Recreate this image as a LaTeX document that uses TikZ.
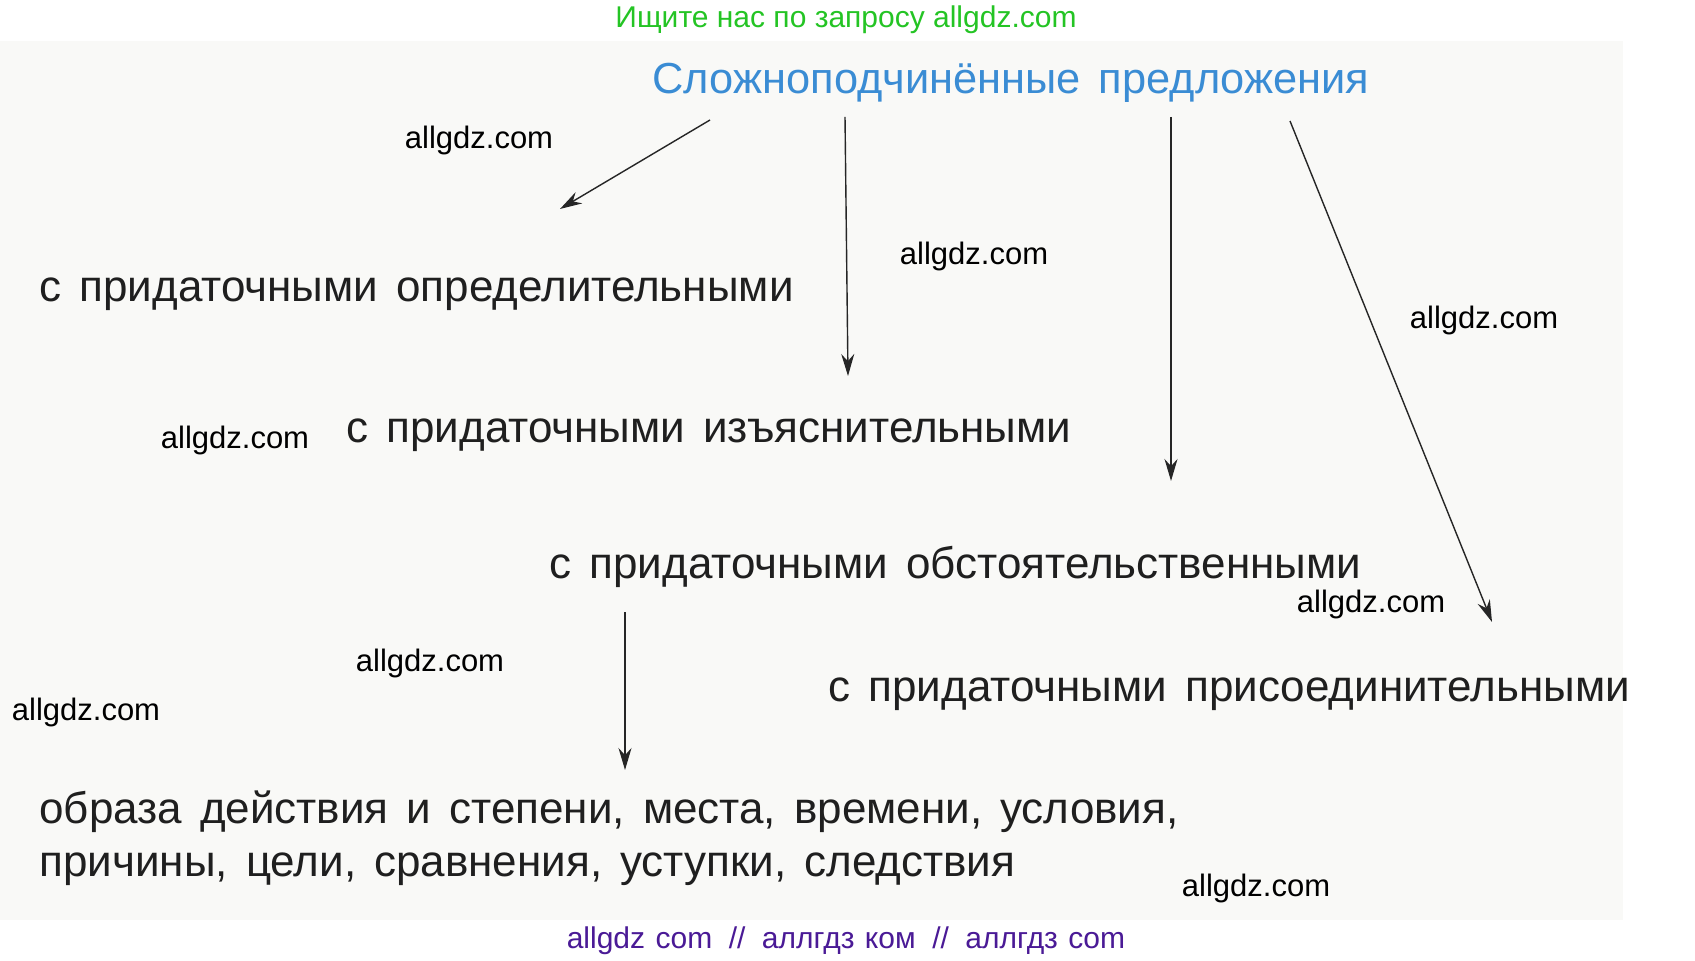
\documentclass[tikz,border=0pt]{standalone}
\usepackage{fontspec}
\setmainfont{Liberation Sans}
\usetikzlibrary{arrows.meta}
\definecolor{pagebg}{RGB}{249,249,247}
\definecolor{titleblue}{RGB}{58,140,212}
\definecolor{topgreen}{RGB}{36,196,36}
\definecolor{botpurple}{RGB}{74,26,150}
\newcommand\slashgap{\hspace{0.55em}}
\tikzset{
  item/.style={anchor=west, inner sep=0pt, font={\fontsize{22}{26.5}\selectfont\spaceskip=0.41em\relax}, text=black!88},
  wm/.style={inner sep=0pt, font=\fontsize{15.5}{18}\selectfont, text=black},
  arr/.style={draw=black!85, line width=0.7pt, -{Stealth[length=11pt,width=6.5pt]}},
}
\begin{document}
\begin{tikzpicture}[x=0.5pt,y=-0.5pt]
\useasboundingbox (0,0) rectangle (1695,961);
\fill[white] (0,0) rectangle (1695,961);
\fill[pagebg] (0,41) rectangle (1623,920);

\node[inner sep=0pt, font=\fontsize{15}{17}\selectfont, text=topgreen] (top) at (846,20) {Ищите нас по запросу allgdz.com};
\node[inner sep=0pt, font={\fontsize{21.7}{26}\selectfont\spaceskip=0.42em\relax}, text=titleblue] (title) at (1011,83) {Сложноподчинённые предложения};

\node[item] (t1) at (39,294) {с придаточными определительными};
\node[item] (t2) at (346,435) {с придаточными изъяснительными};
\node[item] (t3) at (549,567) {с придаточными обстоятельственными};
\node[item] (t4) at (828,694) {с придаточными присоединительными};
\node[item, align=left, anchor=north west] (t5) at (39,790) {образа действия и степени, места, времени, условия,\\причины, цели, сравнения, уступки, следствия};

\node[wm] (w1) at (479,140) {allgdz.com};
\node[wm] (w2) at (974,256) {allgdz.com};
\node[wm] (w3) at (1484,320) {allgdz.com};
\node[wm] (w4) at (235,440) {allgdz.com};
\node[wm] (w5) at (1371,604) {allgdz.com};
\node[wm] (w6) at (430,663) {allgdz.com};
\node[wm] (w7) at (86,712) {allgdz.com};
\node[wm] (w8) at (1256,888) {allgdz.com};

\node[inner sep=0pt, font={\fontsize{15}{18}\selectfont\spaceskip=0.35em\relax}, text=botpurple] (bot) at (846,941) {allgdz com\slashgap//\slashgap аллгдз ком\slashgap//\slashgap аллгдз com};

\coordinate (s1) at (710,120);
\coordinate (e1) at (560,209);
\coordinate (s2) at (845,117);
\coordinate (e2) at (848,376);
\coordinate (s3) at (1171,117);
\coordinate (e3) at (1171,481);
\coordinate (s4) at (1290,121);
\coordinate (e4) at (1492,622);
\coordinate (s5) at (625,612);
\coordinate (e5) at (625,770);

\draw[arr] (s1) -- (e1);
\draw[arr] (s2) -- (e2);
\draw[arr] (s3) -- (e3);
\draw[arr] (s4) -- (e4);
\draw[arr] (s5) -- (e5);
\end{tikzpicture}
\end{document}
